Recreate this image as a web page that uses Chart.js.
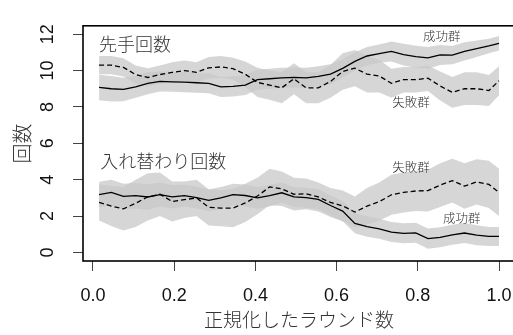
<!DOCTYPE html>
<html>
<head>
<meta charset="utf-8">
<script src="https://cdn.jsdelivr.net/npm/chart.js@4"></script>
<style>
  html, body { margin: 0; padding: 0; overflow: hidden; background: #fff; }
</style>
</head>
<body>
<canvas id="chart" width="520" height="335"></canvas>
<script>
// normalized round (x) shared by all series
const xs = [0.015, 0.045, 0.075, 0.105, 0.135, 0.165, 0.195, 0.225, 0.255, 0.285,
            0.315, 0.345, 0.375, 0.405, 0.435, 0.465, 0.495, 0.525, 0.555, 0.585,
            0.615, 0.645, 0.675, 0.705, 0.735, 0.765, 0.795, 0.825, 0.855, 0.885,
            0.915, 0.945, 0.975, 1.0];

// 先手回数: success group (solid) and failure group (dashed)
const firstSuccess = [9.07, 9.0, 8.96, 9.1, 9.3, 9.4, 9.38, 9.36, 9.33, 9.3,
                      9.1, 9.13, 9.2, 9.5, 9.55, 9.6, 9.62, 9.6, 9.68, 9.8,
                      10.12, 10.5, 10.8, 10.93, 11.05, 10.88, 10.76, 10.7, 10.86, 10.85,
                      11.05, 11.2, 11.35, 11.5];
const firstSuccessErr = [0.7, 0.7, 0.65, 0.6, 0.6, 0.55, 0.55, 0.55, 0.55, 0.55,
                         0.55, 0.55, 0.55, 0.55, 0.55, 0.55, 0.55, 0.55, 0.55, 0.55,
                         0.5, 0.5, 0.5, 0.5, 0.55, 0.6, 0.6, 0.6, 0.55, 0.5,
                         0.5, 0.45, 0.4, 0.4];
const firstFail = [10.3, 10.3, 10.17, 9.78, 9.62, 9.78, 9.9, 10.0, 9.9, 10.15,
                   10.2, 10.1, 9.8, 9.35, 9.2, 9.05, 9.55, 9.05, 9.05, 9.4,
                   9.95, 10.13, 9.8, 9.7, 9.3, 9.5, 9.5, 9.58, 9.15, 8.8,
                   9.0, 9.0, 8.9, 9.44];
const firstFailErr = [0.5, 0.5, 0.5, 0.5, 0.5, 0.5, 0.55, 0.55, 0.55, 0.6,
                      0.6, 0.6, 0.7, 0.8, 0.8, 0.85, 0.85, 0.85, 0.85, 0.9,
                      1.0, 1.0, 1.0, 0.9, 0.8, 0.7, 0.7, 0.7, 0.8, 0.85,
                      0.9, 0.9, 0.85, 0.8];

// 入れ替わり回数: success group (solid) and failure group (dashed)
const swapSuccess = [3.18, 3.3, 3.08, 3.12, 3.05, 3.18, 3.06, 3.12, 3.02, 2.86,
                     3.0, 3.18, 3.13, 3.0, 3.12, 3.28, 3.05, 3.01, 2.92, 2.58,
                     2.27, 1.6, 1.42, 1.3, 1.12, 1.05, 1.08, 0.76, 0.83, 0.97,
                     1.07, 0.95, 0.88, 0.88];
const swapSuccessErr = [0.7, 0.7, 0.7, 0.7, 0.7, 0.65, 0.65, 0.6, 0.6, 0.6,
                        0.6, 0.6, 0.6, 0.6, 0.6, 0.55, 0.55, 0.55, 0.55, 0.55,
                        0.55, 0.55, 0.55, 0.55, 0.55, 0.55, 0.55, 0.55, 0.55, 0.55,
                        0.55, 0.55, 0.52, 0.52];
const swapFail = [2.75, 2.55, 2.4, 2.7, 3.06, 3.2, 2.8, 2.9, 3.0, 2.48,
                  2.44, 2.44, 2.72, 3.1, 3.6, 3.5, 3.2, 3.22, 3.05, 2.75,
                  2.56, 2.22, 2.55, 2.79, 3.17, 3.3, 3.38, 3.4, 3.7, 3.95,
                  3.65, 3.88, 3.74, 3.3];
const swapFailErr = [1.0, 1.1, 1.2, 1.3, 1.3, 1.2, 1.1, 1.0, 1.0, 1.0,
                     1.0, 1.05, 1.05, 1.0, 1.0, 0.95, 0.9, 0.85, 0.8, 0.8,
                     0.85, 0.85, 1.0, 1.05, 1.1, 1.1, 1.1, 1.15, 1.2, 1.2,
                     1.25, 1.25, 1.3, 1.3];

// tick labels
const xTicks = [0.0, 0.2, 0.4, 0.6, 0.8, 1.0];
const yTicks = [0, 2, 4, 6, 8, 10, 12];

// text placed inside the plot, in data units
const notes = [
  { text: "先手回数", x: 0.015, y: 11.47, size: 18, align: "left" },
  { text: "入れ替わり回数", x: 0.018, y: 5.03, size: 18, align: "left" },
  { text: "成功群", x: 0.859, y: 11.88, size: 12.5, align: "center" },
  { text: "失敗群", x: 0.783, y: 8.25, size: 12.5, align: "center" },
  { text: "失敗群", x: 0.783, y: 4.67, size: 12.5, align: "center" },
  { text: "成功群", x: 0.908, y: 1.87, size: 12.5, align: "center" }
];

const JP = "'Noto Sans CJK JP', 'Noto Sans', sans-serif";
const NUM = "'Liberation Sans', Arial, sans-serif";
const BAND = "rgba(200, 200, 200, 0.75)";

function toPoints(ys) {
  return ys.map((v, i) => ({ x: xs[i], y: v }));
}

function lineDataset(ys, dashed) {
  return {
    data: toPoints(ys),
    borderColor: "#000",
    borderWidth: 1.3,
    borderDash: dashed ? [5, 3] : [],
    pointRadius: 0,
    fill: false,
    tension: 0,
    order: 0
  };
}

// two datasets: lower edge and upper edge filled down to the lower edge
function bandDatasets(ys, err) {
  return [
    {
      data: ys.map((v, i) => ({ x: xs[i], y: v - err[i] })),
      borderWidth: 0,
      pointRadius: 0,
      fill: false,
      order: 1
    },
    {
      data: ys.map((v, i) => ({ x: xs[i], y: v + err[i] })),
      borderWidth: 0,
      pointRadius: 0,
      backgroundColor: BAND,
      fill: "-1",
      order: 1
    }
  ];
}

// box around the plot area, like R's box()
const boxPlugin = {
  id: "box",
  afterDatasetsDraw(chart) {
    const { ctx, chartArea: a } = chart;
    ctx.save();
    ctx.strokeStyle = "#000";
    ctx.lineWidth = 1.6;
    ctx.strokeRect(a.left, a.top, a.right - a.left, a.bottom - a.top);
    ctx.restore();
  }
};

const notesPlugin = {
  id: "notes",
  afterDatasetsDraw(chart) {
    const { ctx, scales } = chart;
    ctx.save();
    ctx.fillStyle = "#333";
    ctx.textBaseline = "middle";
    notes.forEach((n) => {
      ctx.font = `300 ${n.size}px ${JP}`;
      ctx.textAlign = n.align;
      ctx.fillText(n.text, scales.x.getPixelForValue(n.x), scales.y.getPixelForValue(n.y));
    });
    ctx.restore();
  }
};

const tickGrid = {
  drawOnChartArea: false,
  drawTicks: true,
  tickLength: 10,
  color: "#444",
  lineWidth: 1
};

new Chart(document.getElementById("chart"), {
  type: "line",
  data: {
    datasets: [
      lineDataset(firstSuccess, false),
      lineDataset(firstFail, true),
      lineDataset(swapSuccess, false),
      lineDataset(swapFail, true),
      ...bandDatasets(firstSuccess, firstSuccessErr),
      ...bandDatasets(firstFail, firstFailErr),
      ...bandDatasets(swapSuccess, swapSuccessErr),
      ...bandDatasets(swapFail, swapFailErr)
    ]
  },
  options: {
    responsive: false,
    animation: false,
    devicePixelRatio: 1,
    layout: { padding: { top: 12, right: 5, left: 0, bottom: 0 } },
    plugins: {
      legend: { display: false },
      tooltip: { enabled: false }
    },
    scales: {
      x: {
        type: "linear",
        min: -0.0246,
        max: 1.0394,
        afterBuildTicks: (s) => { s.ticks = xTicks.map((v) => ({ value: v })); },
        afterFit: (s) => {
          s.height = 74;
          // the plot runs past the right edge, so no room is kept for the last label
          s.paddingLeft = 0;
          s.paddingRight = 0;
        },
        grid: tickGrid,
        border: { display: false },
        ticks: {
          font: { family: NUM, size: 18 },
          color: "#111",
          padding: 14,
          maxRotation: 0,
          callback: (v) => v.toFixed(1)
        },
        title: {
          display: true,
          text: "正規化したラウンド数",
          font: { family: JP, size: 19, weight: 300 },
          color: "#333",
          padding: { top: 0, bottom: 4 }
        }
      },
      y: {
        type: "linear",
        min: -0.47,
        max: 12.46,
        afterBuildTicks: (s) => { s.ticks = yTicks.map((v) => ({ value: v })); },
        afterFit: (s) => { s.width = 83; },
        grid: tickGrid,
        border: { display: false },
        ticks: {
          font: { family: NUM, size: 18 },
          color: "#111",
          padding: 15,
          minRotation: 90,
          maxRotation: 90,
          crossAlign: "center"
        },
        title: {
          display: true,
          text: "回数",
          font: { family: JP, size: 20, weight: 300 },
          color: "#333",
          padding: { top: 10, bottom: 0 }
        }
      }
    }
  },
  plugins: [boxPlugin, notesPlugin]
});
</script>
</body>
</html>
